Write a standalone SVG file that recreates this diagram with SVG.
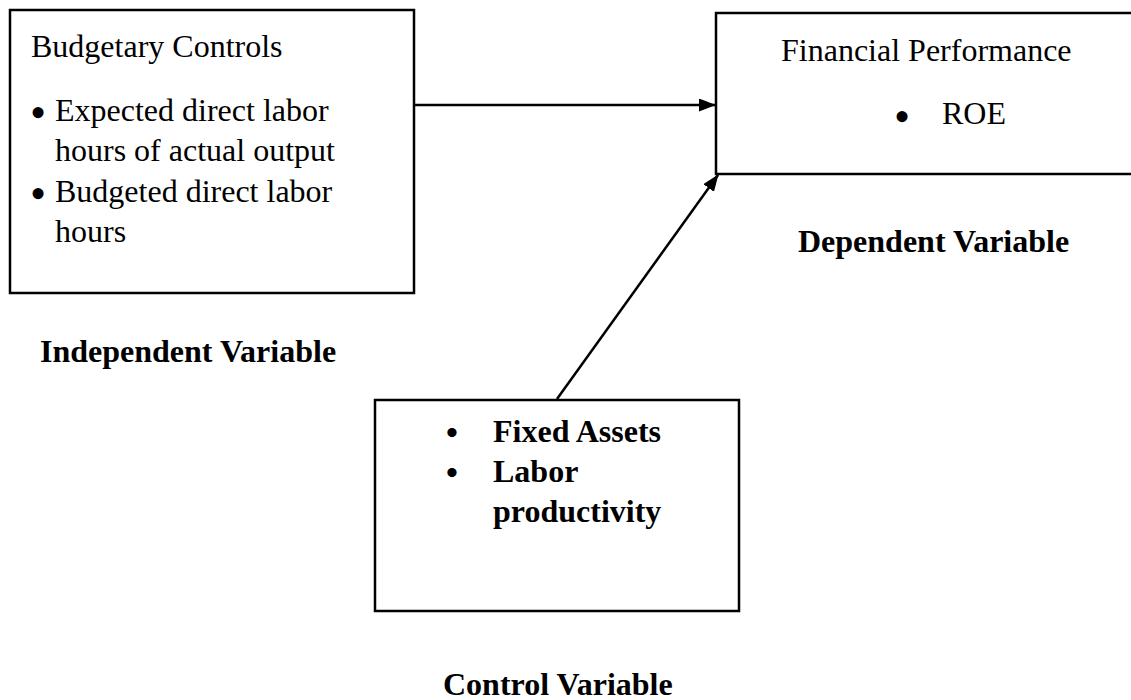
<svg xmlns="http://www.w3.org/2000/svg" width="1131" height="700" viewBox="0 0 1131 700">
<style>
.box{fill:#fff;stroke:#000;stroke-width:2.5}
.t{font-family:"Liberation Serif","Times New Roman",serif;font-size:32px;fill:#000}
.b{font-weight:bold}
.bl{font-family:"Liberation Serif","Times New Roman",serif;font-size:46px;fill:#000;text-anchor:middle}
.bs{font-family:"Liberation Serif","Times New Roman",serif;font-size:34px;font-weight:bold;fill:#000;text-anchor:middle}
.c{stroke:#000;stroke-width:2.5;fill:none}
</style>
<defs>
<marker id="ah" markerWidth="17" markerHeight="13" refX="16" refY="6.5" orient="auto" markerUnits="userSpaceOnUse">
<path d="M0,0 L17,6.5 L0,13 Z" fill="#000"/>
</marker>
</defs>
<rect width="1131" height="700" fill="#fff"/>
<g id="connectors">
<line class="c" x1="415" y1="105" x2="715" y2="105" marker-end="url(#ah)"/>
<line class="c" x1="557" y1="399" x2="718" y2="175" marker-end="url(#ah)"/>
</g>
<g id="budgetary">
<rect class="box" x="10" y="10" width="404" height="283"/>
<text class="t" x="31" y="57">Budgetary Controls</text>
<text class="bl" x="38" y="128">•</text>
<text class="t" x="55" y="121">Expected direct labor</text>
<text class="t" x="55" y="161">hours of actual output</text>
<text class="bl" x="38" y="209">•</text>
<text class="t" x="55" y="202">Budgeted direct labor</text>
<text class="t" x="55" y="242">hours</text>
</g>
<g id="independent-label">
<text class="t b" x="40" y="362">Independent Variable</text>
</g>
<g id="financial">
<rect class="box" x="716" y="13" width="420" height="161"/>
<text class="t" x="781" y="61">Financial Performance</text>
<text class="bl" x="902" y="132">•</text>
<text class="t" x="942" y="124">ROE</text>
</g>
<g id="dependent-label">
<text class="t b" x="798" y="252">Dependent Variable</text>
</g>
<g id="control">
<rect class="box" x="375" y="400" width="364" height="211"/>
<text class="bs" x="452" y="444">•</text>
<text class="bs" x="452" y="484">•</text>
<text class="t b" x="493" y="442">Fixed Assets</text>
<text class="t b" x="493" y="482">Labor</text>
<text class="t b" x="493" y="522">productivity</text>
</g>
<g id="control-label">
<text class="t b" x="443" y="695">Control Variable</text>
</g>
</svg>
